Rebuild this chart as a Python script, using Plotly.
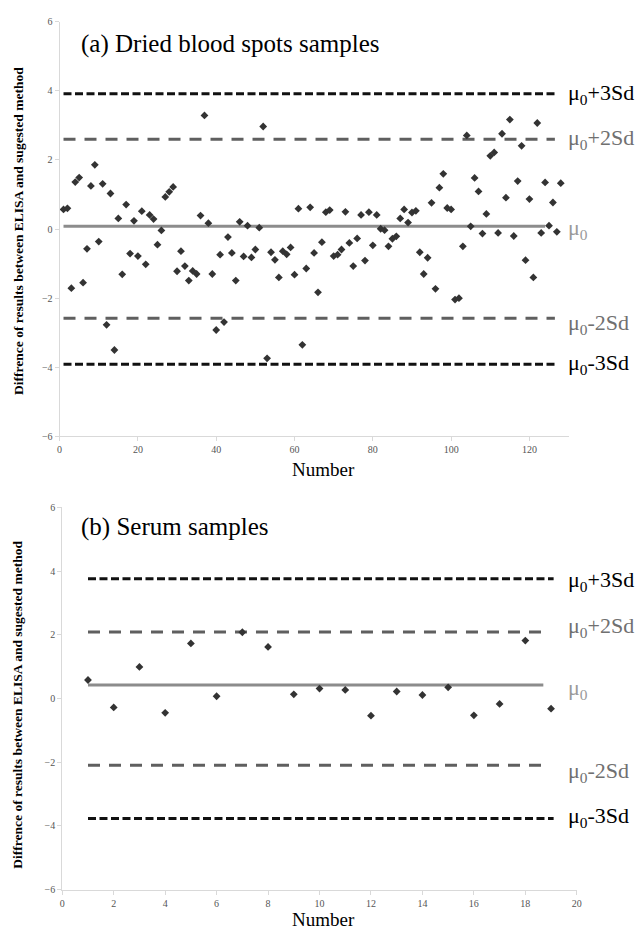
import plotly.graph_objects as go

# ---------------- data ----------------
top_number = list(range(1, 129))
top_diff = [0.57, 0.60, -1.71, 1.36, 1.49, -1.55, -0.57, 1.25, 1.86, -0.36,
            1.31, -2.77, 1.03, -3.50, 0.31, -1.31, 0.71, -0.71, 0.24, -0.78,
            0.52, -1.02, 0.41, 0.29, -0.45, -0.04, 0.93, 1.08, 1.22, -1.22,
            -0.64, -1.07, -1.49, -1.21, -1.30, 0.39, 3.29, 0.17, -1.30, -2.92,
            -0.74, -2.69, -0.23, -0.69, -1.49, 0.21, -0.79, 0.10, -0.82, -0.59,
            0.04, 2.97, -3.74, -0.67, -0.89, -1.40, -0.64, -0.73, -0.53, -1.32,
            0.59, -3.35, -1.14, 0.63, -0.69, -1.83, -0.38, 0.49, 0.55, -0.78,
            -0.74, -0.59, 0.50, -0.40, -1.07, -0.27, 0.41, -0.91, 0.49, -0.47,
            0.41, 0.01, -0.03, -0.50, -0.28, -0.21, 0.31, 0.57, 0.19, 0.48,
            0.53, -0.67, -1.30, -0.83, 0.76, -1.73, 1.20, 1.60, 0.61, 0.57,
            -2.04, -2.00, -0.50, 2.71, 0.08, 1.48, 1.09, -0.13, 0.44, 2.12,
            2.22, -0.11, 2.76, 0.91, 3.17, -0.20, 1.39, 2.41, -0.90, 0.87,
            -1.40, 3.07, -0.11, 1.35, 0.10, 0.77, -0.08, 1.33]

bottom_number = list(range(1, 20))
bottom_diff = [0.58, -0.28, 0.99, -0.45, 1.73, 0.07, 2.08, 1.62, 0.13, 0.31,
               0.27, -0.54, 0.22, 0.11, 0.35, -0.53, -0.17, 1.82, -0.32]

level_names = ["μ<sub>0</sub>+3Sd", "μ<sub>0</sub>+2Sd", "μ<sub>0</sub>",
               "μ<sub>0</sub>-2Sd", "μ<sub>0</sub>-3Sd"]
top_levels = [3.92, 2.60, 0.08, -2.58, -3.91]
top_level_x = [[1, 126.5], [1, 126.5], [1, 124], [1, 126.5], [1, 126.5]]
bottom_levels = [3.76, 2.09, 0.42, -2.10, -3.77]
bottom_level_x = [[1, 19.1], [1, 18.7], [1, 18.7], [1, 18.7], [1, 19.1]]

top_x_ticks = [0, 20, 40, 60, 80, 100, 120]
bottom_x_ticks = list(range(0, 21, 2))
y_ticks = [-6, -4, -2, 0, 2, 4, 6]

panel_titles = ["(a) Dried blood spots samples", "(b) Serum samples"]
y_title = "Diffrence of results between ELISA and sugested method"
x_title = "Number"

# ---------------- styles ----------------
W, H = 644, 934
SERIF = "Liberation Serif, Times New Roman, serif"
line_styles = [
    dict(color="#111111", width=3, dash="8px,3.5px"),
    dict(color="#5f5f5f", width=3, dash="12px,9px"),
    dict(color="#8c8c8c", width=3, dash="solid"),
    dict(color="#5f5f5f", width=3, dash="12px,9px"),
    dict(color="#111111", width=3, dash="8px,3.5px"),
]
label_colors = ["#000000", "#707070", "#9a9a9a", "#707070", "#000000"]
top_label_shift = [0, 0, -3, -6, 0]
bottom_label_shift = [-2, 5, -4, -7, 2]
marker = dict(symbol="diamond", size=6, color="#333333")


def py(p):
    return 1 - p / H


fig = go.Figure()

panels = [
    ("x", "y", top_number, top_diff, top_levels, top_level_x, top_label_shift),
    ("x2", "y2", bottom_number, bottom_diff, bottom_levels, bottom_level_x, bottom_label_shift),
]

annotations = []
for xa, ya, xs, ys, levels, lx, shifts in panels:
    for i, lev in enumerate(levels):
        fig.add_trace(go.Scatter(x=lx[i], y=[lev, lev], mode="lines",
                                 line=line_styles[i], xaxis=xa, yaxis=ya,
                                 showlegend=False, hoverinfo="skip"))
        annotations.append(dict(text=level_names[i], xref="paper", yref=ya,
                                x=570 / W, y=lev, xanchor="left", yanchor="middle",
                                yshift=shifts[i], showarrow=False,
                                font=dict(family=SERIF, size=22, color=label_colors[i])))
    fig.add_trace(go.Scatter(x=xs, y=ys, mode="markers", marker=marker,
                             xaxis=xa, yaxis=ya, showlegend=False))

axis_common = dict(showline=True, linecolor="#d9d9d9", linewidth=1,
                   ticks="outside", ticklen=4, tickcolor="#d9d9d9",
                   showgrid=False, zeroline=False,
                   tickfont=dict(family=SERIF, size=10, color="#555555"))

fig.update_layout(
    width=W, height=H,
    margin=dict(l=0, r=0, t=0, b=0),
    paper_bgcolor="white", plot_bgcolor="white",
    xaxis=dict(domain=[57.3 / W, 572.7 / W], range=[0, 130], tickvals=top_x_ticks,
               anchor="y", **axis_common),
    yaxis=dict(domain=[py(436), py(16)], range=[-6, 6], tickvals=y_ticks,
               anchor="x", **axis_common),
    xaxis2=dict(domain=[60 / W, 581 / W], range=[0, 20], tickvals=bottom_x_ticks,
                anchor="y2", **axis_common),
    yaxis2=dict(domain=[py(895), py(508)], range=[-6, 6], tickvals=y_ticks,
                anchor="x2", **axis_common),
)

# panel titles
for t, yp in zip(panel_titles, [39, 528]):
    annotations.append(dict(text=t, xref="paper", yref="paper", x=77 / W, y=py(yp),
                            xanchor="left", yanchor="middle", showarrow=False,
                            font=dict(family=SERIF, size=25, color="#000000")))
# x titles
for yp in [470, 925]:
    annotations.append(dict(text=x_title, xref="paper", yref="paper", x=325 / W, y=py(yp),
                            xanchor="center", yanchor="middle", showarrow=False,
                            font=dict(family=SERIF, size=19, color="#000000")))
# y titles
for yp in [228, 708]:
    annotations.append(dict(text="<b>" + y_title + "</b>", xref="paper", yref="paper",
                            x=15 / W, y=py(yp), xanchor="center", yanchor="middle",
                            textangle=-90, showarrow=False,
                            font=dict(family=SERIF, size=13.5, color="#000000")))

fig.update_layout(annotations=annotations)
fig.write_html("out.html", config={"displayModeBar": False},
               post_script="document.body.style.margin='0';document.body.style.overflow='hidden';")
